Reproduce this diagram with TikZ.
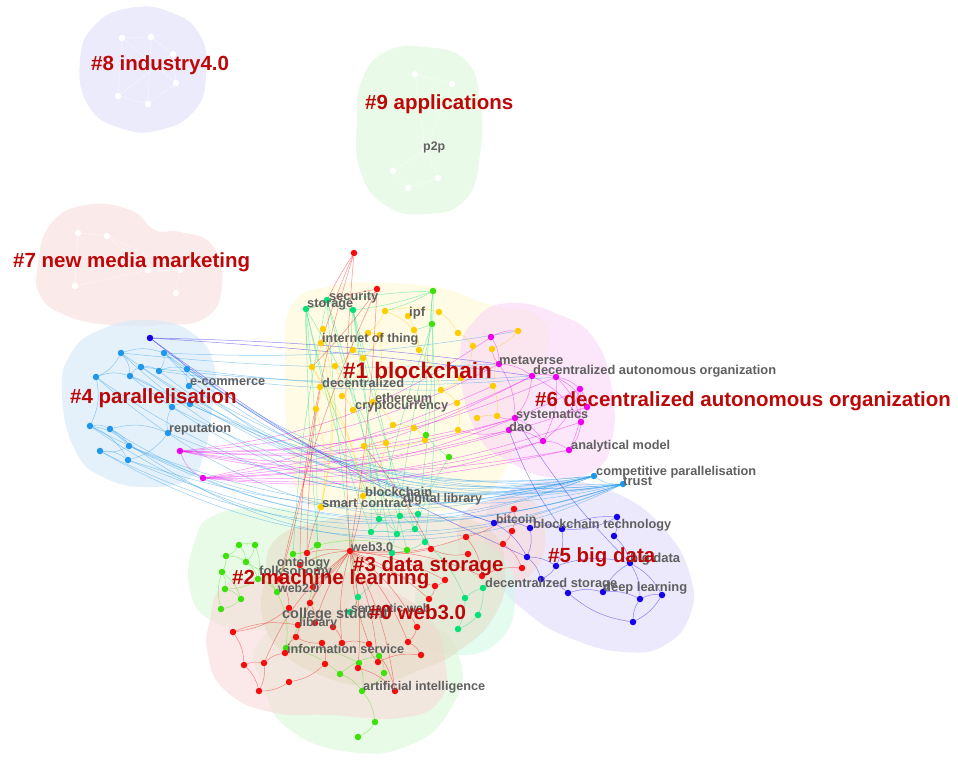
\documentclass[tikz,border=0pt]{standalone}
\usepackage{fontspec}
\setmainfont{Liberation Sans}
\usepackage{graphicx}
\definecolor{clab}{RGB}{188,8,8}
\definecolor{nlabc}{RGB}{96,96,96}
\definecolor{cY}{RGB}{255,204,0}
\definecolor{cG}{RGB}{60,225,10}
\definecolor{cT}{RGB}{0,226,120}
\definecolor{cR}{RGB}{245,12,12}
\definecolor{cB}{RGB}{20,0,235}
\definecolor{cC}{RGB}{30,150,235}
\definecolor{cM}{RGB}{238,0,238}
\definecolor{hE}{RGB}{224,224,249}
\definecolor{hN}{RGB}{222,247,219}
\definecolor{hS}{RGB}{249,222,222}
\definecolor{hF}{RGB}{213,234,249}
\definecolor{hO}{RGB}{255,250,212}
\definecolor{hX}{RGB}{249,216,247}
\definecolor{hV}{RGB}{224,221,249}
\definecolor{hT}{RGB}{212,249,231}
\definecolor{hW}{RGB}{219,249,216}
\definecolor{hZ}{RGB}{249,219,219}
\definecolor{hH}{RGB}{229,216,194}
\newcommand\nlab[2]{\resizebox{#1pt}{!}{\bfseries #2}}
\pgfdeclarelayer{hulls}
\pgfdeclarelayer{links}
\pgfsetlayers{hulls,links,main}
\tikzset{
  dot/.style={circle, inner sep=0pt, minimum size=6.5pt, fill=#1},
  hull/.style={fill=#1, fill opacity=0.62},
  link/.style={draw=#1, line width=0.5pt, draw opacity=0.45},
  wlink/.style={draw=white, line width=0.5pt, draw opacity=0.55},
  nl/.style={anchor=west, inner sep=0pt, text=nlabc},
  cl/.style={anchor=west, inner sep=0pt, text=clab, font=\bfseries\fontsize{20.5}{22}\selectfont}
}
\begin{document}
\begin{tikzpicture}[x=1pt, y=-1pt]
\useasboundingbox (0,0) rectangle (958,761);

% ---------- cluster hulls ----------
\begin{pgfonlayer}{hulls}
\fill[white] (0,0) rectangle (958,761);
\fill[hull=hE] plot[smooth cycle, tension=0.8] coordinates {(80,60) (95,25) (130,8) (170,12) (200,35) (206,75) (195,110) (160,130) (120,128) (88,105)};
\fill[hull=hN] plot[smooth cycle, tension=0.8] coordinates {(362,80) (385,52) (425,47) (465,60) (480,100) (480,155) (465,200) (425,214) (385,205) (360,170) (357,120)};
\fill[hull=hS] plot[smooth cycle, tension=0.8] coordinates {(38,265) (50,225) (85,205) (130,210) (155,230) (180,232) (212,245) (222,285) (205,318) (160,325) (110,325) (65,315) (40,295)};
\fill[hull=hF] plot[smooth cycle, tension=0.8] coordinates {(62,395) (70,355) (100,330) (150,320) (195,335) (215,370) (212,410) (205,450) (190,478) (150,487) (105,478) (75,450)};
\fill[hull=hO] plot[smooth cycle, tension=0.8] coordinates {(285,360) (292,305) (330,286) (380,283) (440,288) (490,305) (540,318) (545,360) (520,420) (505,470) (470,505) (410,512) (345,515) (300,495) (288,440)};
\fill[hull=hX] plot[smooth cycle, tension=0.8] coordinates {(460,360) (475,320) (510,303) (560,315) (595,340) (612,390) (612,440) (595,470) (555,478) (510,462) (475,430)};
\fill[hull=hV] plot[smooth cycle, tension=0.8] coordinates {(485,520) (510,490) (560,480) (620,495) (665,530) (690,575) (690,615) (665,645) (625,652) (575,640) (530,615) (495,575)};
\fill[hull=hZ] plot[smooth cycle, tension=0.8] coordinates {(460,520) (490,500) (530,500) (545,530) (535,570) (500,585) (465,565)};
\fill[hull=hT] plot[smooth cycle, tension=0.8] coordinates {(430,555) (470,540) (505,560) (515,600) (500,640) (460,655) (425,640) (415,600)};
\fill[hull=hW] plot[smooth cycle, tension=0.8] coordinates {(195,540) (215,515) (260,508) (310,512) (345,525) (360,560) (350,600) (330,625) (270,630) (215,622) (190,590)};
\fill[hull=hW] plot[smooth cycle, tension=0.8] coordinates {(260,640) (330,610) (420,620) (460,660) (450,710) (410,745) (350,752) (290,730) (265,690)};
\fill[hull=hZ] plot[smooth cycle, tension=0.8] coordinates {(210,620) (225,585) (275,575) (330,570) (390,590) (430,620) (445,660) (440,700) (400,718) (330,715) (270,712) (225,690) (208,655)};
\fill[hull=hH, fill opacity=0.5] plot[smooth cycle, tension=0.8] coordinates {(265,580) (275,540) (320,522) (380,512) (440,515) (490,530) (505,570) (495,615) (460,650) (420,670) (370,685) (320,675) (280,650) (262,615)};
\end{pgfonlayer}

% ---------- nodes ----------
\foreach \n/\x/\y in {1/122/38, 2/151/37, 3/173/54, 4/176/83, 5/118/96, 6/148/104, 7/415/74, 8/452/84, 9/393/171, 10/438/178, 11/408/188, 12/425/150, 13/78/233, 14/107/236, 15/75/286, 16/176/293, 17/148/270, 18/180/270}
  \node[dot=white] (w\n) at (\x,\y) {};
\foreach \n/\x/\y in {1/385/311, 2/439/312, 3/323/329, 4/368/333, 5/414/330, 6/458/333, 7/473/346, 8/321/343, 9/353/350, 10/380/335, 11/363/358, 12/419/350, 13/312/367, 14/335/366, 15/461/378, 16/320/387, 17/342/396, 18/373/402, 19/441/390, 20/457/403, 21/316/409, 22/353/410, 23/393/425, 24/414/428, 25/458/430, 26/425/440, 27/364/446, 28/386/443, 29/363/496, 30/321/507, 31/518/331, 32/492/349, 33/493/386, 34/477/418, 35/497/416, 36/408/316}
  \node[dot=cY] (y\n) at (\x,\y) {};
\foreach \n/\x/\y in {1/433/291, 2/432/324, 3/426/435, 4/449/457, 5/318/545, 6/239/545, 7/255/545, 8/226/556, 9/246/562, 10/222/572, 11/258/579, 12/225/589, 13/241/599, 14/277/592, 15/221/609, 16/317/545, 17/293/554, 18/286/648, 19/340/674, 20/358/737, 21/407/550, 22/379/656, 23/359/663, 24/384/673, 25/362/691, 26/375/722}
  \node[dot=cG] (g\n) at (\x,\y) {};
\foreach \n/\x/\y in {1/306/309, 2/327/300, 3/353/310, 4/379/519, 5/400/516, 6/418/514, 7/371/532, 8/397/534, 9/415/529, 10/425/542, 11/392/553, 12/358/597, 13/465/598, 14/483/588, 15/478/615, 16/458/629, 17/350/612}
  \node[dot=cT] (t\n) at (\x,\y) {};
\foreach \n/\x/\y in {1/354/253, 2/377/289, 3/514/509, 4/512/531, 5/503/544, 6/466/537, 7/468/554, 8/431/549, 9/350/551, 10/307/553, 11/522/568, 12/482/576, 13/445/580, 14/435/586, 15/429/599, 16/417/627, 17/408/642, 18/421/655, 19/378/662, 20/358/668, 21/342/643, 22/369/644, 23/322/643, 24/325/664, 25/395/691, 26/310/603, 27/289/608, 28/280/579, 29/296/637, 30/298/625, 31/233/632, 32/244/665, 33/264/663, 34/285/653, 35/289/682, 36/259/691, 37/313/587, 38/300/565, 39/333/627, 40/315/623}
  \node[dot=cR] (r\n) at (\x,\y) {};
\foreach \n/\x/\y in {1/494/523, 2/530/528, 3/562/529, 4/617/517, 5/614/536, 6/527/557, 7/556/566, 8/541/579, 9/568/593, 10/603/592, 11/630/563, 12/640/599, 13/662/595, 14/633/622, 15/150/338}
  \node[dot=cB] (b\n) at (\x,\y) {};
\foreach \n/\x/\y in {1/121/353, 2/164/353, 3/96/377, 4/130/376, 5/141/367, 6/159/371, 7/187/369, 8/189/386, 9/172/407, 10/190/404, 11/90/426, 12/110/429, 13/168/433, 14/129/446, 15/100/451, 16/128/460, 17/623/484, 18/594/476}
  \node[dot=cC] (c\n) at (\x,\y) {};
\foreach \n/\x/\y in {1/491/337, 2/499/364, 3/532/376, 4/556/377, 5/580/389, 6/587/407, 7/515/418, 8/509/430, 9/581/422, 10/543/441, 11/569/450, 12/180/451, 13/203/478}
  \node[dot=cM] (m\n) at (\x,\y) {};

% ---------- links ----------
\begin{pgfonlayer}{links}
\foreach \a/\b in {w1/w2, w2/w3, w3/w4, w4/w6, w6/w5, w5/w1, w1/w4, w2/w6, w3/w5, w7/w8, w7/w12, w8/w12, w12/w9, w12/w10, w9/w11, w10/w11, w13/w14, w14/w17, w17/w18, w18/w16, w15/w13, w15/w17, w14/w18}
  \draw[wlink] (\a) -- (\b);
\foreach \a/\t/\bd in {c1/c17/28, c2/c17/24, c3/c17/30, c4/c18/26, c5/c17/22, c6/c18/24, c7/c17/20, c8/c18/22, c9/c17/18, c10/c18/16, c11/c17/28, c12/c18/26, c13/c17/16, c14/c17/22, c15/c18/24, c16/c17/20, c1/c18/20, c11/c18/22, c3/c18/24, c14/c18/18, c15/c17/26, c16/c18/16, c8/c17/18, c2/c18/30, c12/c17/32, c4/c17/14}
  \draw[link=cC] (\a) to[bend right=\bd] (\t);
\foreach \a/\t/\bd in {c1/m2/4, c2/y31/6, c5/m3/5, c7/m4/6, c2/b1/8, c6/y19/4}
  \draw[link=cC] (\a) to[bend right=\bd] (\t);
\foreach \a/\b in {c1/c2, c1/c3, c3/c4, c4/c5, c5/c6, c6/c7, c2/c6, c1/c4, c3/c11, c11/c12, c12/c13, c11/c14, c14/c15, c15/c16, c12/c14, c13/c9, c9/c10, c8/c7, c4/c9, c2/c7, c11/c16, c17/c18, c13/c16}
  \draw[link=cC] (\a) to[bend left=18] (\b);
\foreach \t/\bd in {b1/10, b6/6, m2/-3, m3/-2}
  \draw[link=cB] (b15) to[bend right=\bd] (\t);
\foreach \t/\bd in {m1/14, m2/12, m3/14, m4/12, m7/10, m8/12, m10/14, m11/10, m13/20, y25/8}
  \draw[link=cM] (m12) to[bend right=\bd] (\t);
\foreach \t/\bd in {m3/10, m5/12, m6/8, m9/10, m10/12, m11/8, m7/6, y33/6}
  \draw[link=cM] (m13) to[bend right=\bd] (\t);
\foreach \a/\b in {m1/m2, m2/m3, m3/m4, m4/m5, m5/m6, m6/m9, m9/m11, m10/m11, m7/m8, m7/m10, m8/m10, m3/m7, m4/m9, m2/m7, m3/m9, m4/m10, m5/m10, m1/y31, m2/y32, m7/y35, m8/y25, m4/m6, m5/m11}
  \draw[link=cM] (\a) to[bend left=15] (\b);
\foreach \a/\b in {y1/y2, y1/y5, y3/y8, y8/y13, y13/y16, y16/y21, y4/y10, y10/y11, y9/y11, y11/y17, y14/y17, y17/y22, y22/y18, y18/y23, y23/y24, y24/y26, y26/y27, y27/y28, y19/y20, y20/y25, y15/y19, y12/y19, y5/y12, y6/y7, y7/y15, y31/y32, y32/y33, y33/y35, y34/y35, y21/y30, y27/y29, y29/y30, y36/y12, y2/y6, y9/y14, y16/y29, y3/y30, y8/y30, y13/y29, y1/y4, y10/y18, y28/y29}
  \draw[link=cY] (\a) to[bend left=12] (\b);
\foreach \a/\b/\bd in {t1/t7/4, t1/t4/6, t1/g5/2, t2/t4/-4, t2/t8/3, t3/t5/-3, t3/t9/4, t3/t11/2, g1/t1/6, g1/t6/-4, g1/g3/3, g2/t10/-5, g2/t4/4, g3/g4/8, g4/t9/6, t1/t2/10, t2/t3/10, g1/t3/-6, t1/g16/-3, t2/g17/4, t3/t7/-5, g2/t8/3, g1/g2/6, t1/y13/8, t3/y9/6, g1/y1/-6, g2/y5/-4, t2/t12/2, t1/g21/-8}
  \draw[link=cT] (\a) to[bend right=\bd] (\b);
\foreach \a/\b in {t4/t5, t5/t6, t4/t7, t7/t8, t8/t9, t9/t10, t10/t11, t11/t12, t13/t14, t14/t15, t15/t16, t13/t16, t12/t17, t10/t13, t6/t9, t4/t8, t5/t9, t11/t8}
  \draw[link=cT] (\a) to[bend left=12] (\b);
\foreach \a/\b/\bd in {r1/r9/4, r1/r10/8, r1/t2/3, r2/r9/-3, r2/r28/6, r2/y13/-4, r2/t1/5, y30/r10/5, y21/r28/-4, y16/r38/6, r1/y8/3, y29/r9/-5, y27/r8/-6}
  \draw[link=cR] (\a) to[bend right=\bd] (\b);
\foreach \t/\bd in {r10/10, r26/12, r37/-10, r38/12, r22/8, r21/10, r19/-8, r16/-12, r15/-10, r8/10, r6/12, r13/-10, r40/8, r29/12, r20/-8, r25/-10, r14/8, r12/-12, r33/14, r17/-10}
  \draw[link=cR] (r9) to[bend right=\bd] (\t);
\foreach \a/\b in {r31/r32, r31/r30, r32/r36, r33/r36, r33/r34, r34/r29, r27/r31, r28/r27, r23/r24, r21/r22, r19/r18, r17/r18, r16/r17, r22/r25, r24/r35, r35/r36, r12/r11, r4/r5, r3/r4, r7/r8, r6/r12, r14/r15, r26/r40, r39/r21, r23/r29, r32/r33, r20/r25, r19/r22, r3/r6, r5/r11, r13/r14}
  \draw[link=cR] (\a) to[bend left=15] (\b);
\foreach \a/\b in {g6/g7, g6/g8, g7/g9, g8/g10, g9/g11, g10/g12, g12/g13, g11/g14, g13/g15, g8/g9, g6/g9, g7/g11, g10/g13, g14/g17, g16/g17, g11/g12, g15/g10, g14/g18, g18/g19, g18/g23, g19/g22, g22/g24, g23/g25, g25/g26, g26/g20, g24/g25, g19/g25, g5/g21, g16/g18, g9/g14, g5/g17}
  \draw[link=cG] (\a) to[bend left=15] (\b);
\foreach \a/\b in {b1/b2, b2/b3, b3/b4, b4/b5, b5/b11, b11/b12, b12/b13, b13/b14, b14/b12, b11/b13, b6/b7, b7/b8, b8/b9, b9/b10, b10/b11, b2/b6, b3/b7, b6/b8, b1/b6, b10/b12, b1/b3, b14/b9, b7/b11, b4/b3}
  \draw[link=cB] (\a) to[bend left=15] (\b);
\draw[link=cB] (m7) to[bend right=6] (b11);
\draw[link=cB] (m8) to[bend right=8] (b3);
\end{pgfonlayer}

% ---------- node labels ----------
\node[nl] (lp2p) at (423,147) {\nlab{22}{p2p}};
\node[nl] (lsec) at (329,297) {\nlab{49}{security}};
\node[nl] (lsto) at (307,305) {\nlab{46}{storage}};
\node[nl] (lipf) at (409,313) {\nlab{16}{ipf}};
\node[nl] (liot) at (322,339) {\nlab{96}{internet of thing}};
\node[nl] (ldec) at (322,383) {\nlab{82}{decentralized}};
\node[nl] (leth) at (375,398) {\nlab{57}{ethereum}};
\node[nl] (lcry) at (355,407) {\nlab{93}{cryptocurrency}};
\node[nl] (lecom) at (190,382) {\nlab{75}{e-commerce}};
\node[nl] (lrep) at (169,429) {\nlab{62}{reputation}};
\node[nl] (lbc) at (365,492) {\nlab{67}{blockchain}};
\node[nl] (lsc) at (322,503) {\nlab{90}{smart contract}};
\node[nl] (ldl) at (403,499) {\nlab{79}{digital library}};
\node[nl] (lmeta) at (499,360) {\nlab{64}{metaverse}};
\node[nl] (ldao2) at (533,371) {\nlab{243}{decentralized autonomous organization}};
\node[nl] (lsys) at (516,415) {\nlab{72}{systematics}};
\node[nl] (ldao) at (509,427) {\nlab{23}{dao}};
\node[nl] (lana) at (571,446) {\nlab{99}{analytical model}};
\node[nl] (lcomp) at (596,472) {\nlab{160}{competitive parallelisation}};
\node[nl] (ltru) at (623,481) {\nlab{29}{trust}};
\node[nl] (lbit) at (496,519) {\nlab{40}{bitcoin}};
\node[nl] (lbct) at (533,525) {\nlab{138}{blockchain technology}};
\node[nl] (lbig) at (630,559) {\nlab{50}{big data}};
\node[nl] (ldst) at (485,584) {\nlab{132}{decentralized storage}};
\node[nl] (ldeep) at (603,588) {\nlab{84}{deep learning}};
\node[nl] (lweb3) at (351,547) {\nlab{42}{web3.0}};
\node[nl] (lont) at (277,563) {\nlab{53}{ontology}};
\node[nl] (lfolk) at (259,572) {\nlab{73}{folksonomy}};
\node[nl] (lweb2) at (278,588) {\nlab{41}{web2.0}};
\node[nl] (lsem) at (351,608) {\nlab{79}{semantic web}};
\node[nl] (lcol) at (282,615) {\nlab{106}{college student}};
\node[nl] (llib) at (299,623) {\nlab{38}{library}};
\node[nl] (linf) at (287,649) {\nlab{117}{information service}};
\node[nl] (lai) at (363,687) {\nlab{122}{artificial intelligence}};

% ---------- cluster labels ----------
\node[cl] (k8) at (91,65) {\#8 industry4.0};
\node[cl] (k9) at (365,104) {\#9 applications};
\node[cl] (k7) at (13,262) {\#7 new media marketing};
\node[cl] (k4) at (70,398) {\#4 parallelisation};
\node[cl, font=\bfseries\fontsize{22.5}{24}\selectfont] (k1) at (343,370) {\#1 blockchain};
\node[cl] (k6) at (535,401) {\#6 decentralized autonomous organization};
\node[cl] (k5) at (548,557) {\#5 big data};
\node[cl] (k3) at (353,566) {\#3 data storage};
\node[cl] (k2) at (232,579) {\#2 machine learning};
\node[cl] (k0) at (369,612) {\#0 web3.0};
\end{tikzpicture}
\end{document}
